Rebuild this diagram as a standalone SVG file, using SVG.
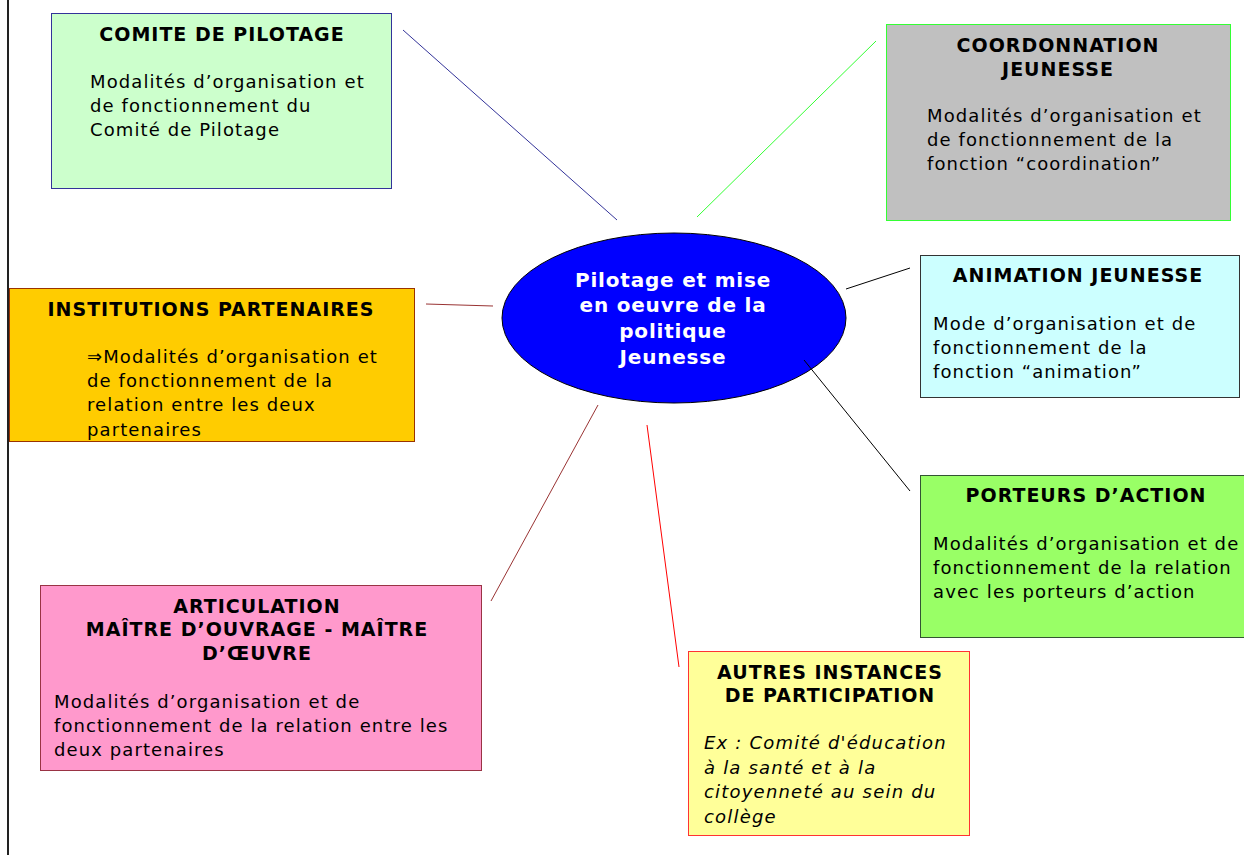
<svg xmlns="http://www.w3.org/2000/svg" width="1244" height="855" viewBox="0 0 1244 855">
<style>
text{font-family:"DejaVu Sans","Liberation Sans",sans-serif;fill:#000}
.t{font-weight:bold;font-size:19px;letter-spacing:1px;text-anchor:middle}
.b{font-size:18px;letter-spacing:1.1px}
.i{font-size:18px;letter-spacing:1.2px;font-style:italic}
.c{font-weight:bold;font-size:20px;letter-spacing:0.8px;text-anchor:middle;fill:#fff}
</style>
<rect width="1244" height="855" fill="#fff"/>
<line x1="8" y1="0" x2="8" y2="855" stroke="#222" stroke-width="2"/>
<g id="comite">
<rect x="51.5" y="13.5" width="340" height="175" fill="#ccffcc" stroke="#333399"/>
<text class="t" x="222" y="41">COMITE DE PILOTAGE</text>
<text class="b" x="90" y="88">Modalités d’organisation et</text>
<text class="b" x="90" y="112">de fonctionnement du</text>
<text class="b" x="90" y="136">Comité de Pilotage</text>
</g>
<g id="coordination">
<rect x="886.5" y="24.5" width="344" height="196" fill="#c0c0c0" stroke="#33ff33"/>
<text class="t" x="1058" y="52">COORDONNATION</text>
<text class="t" x="1058" y="76">JEUNESSE</text>
<text class="b" x="927" y="122">Modalités d’organisation et</text>
<text class="b" x="927" y="146">de fonctionnement de la</text>
<text class="b" x="927" y="170">fonction “coordination”</text>
</g>
<g id="institutions">
<rect x="9.5" y="288.5" width="405" height="153" fill="#ffcc00" stroke="#993300"/>
<text class="t" x="211" y="316">INSTITUTIONS PARTENAIRES</text>
<text class="b" x="87" y="363">⇒Modalités d’organisation et</text>
<text class="b" x="87" y="387">de fonctionnement de la</text>
<text class="b" x="87" y="411">relation entre les deux</text>
<text class="b" x="87" y="436">partenaires</text>
</g>
<g id="centre">
<ellipse cx="674" cy="318" rx="172" ry="85" fill="#0000ff" stroke="#000"/>
<text class="c" x="673" y="287">Pilotage et mise</text>
<text class="c" x="673" y="312">en oeuvre de la</text>
<text class="c" x="673" y="338">politique</text>
<text class="c" x="673" y="364">Jeunesse</text>
</g>
<g id="animation">
<rect x="920.5" y="255.5" width="319" height="142" fill="#ccffff" stroke="#333"/>
<text class="t" x="1078" y="282">ANIMATION JEUNESSE</text>
<text class="b" x="933" y="330">Mode d’organisation et de</text>
<text class="b" x="933" y="354">fonctionnement de la</text>
<text class="b" x="933" y="378">fonction “animation”</text>
</g>
<g id="porteurs">
<rect x="920.5" y="475.5" width="330" height="162" fill="#99ff66" stroke="#335533"/>
<text class="t" x="1086" y="502">PORTEURS D’ACTION</text>
<text class="b" x="933" y="550">Modalités d’organisation et de</text>
<text class="b" x="933" y="574">fonctionnement de la relation</text>
<text class="b" x="933" y="598">avec les porteurs d’action</text>
</g>
<g id="articulation">
<rect x="40.5" y="585.5" width="441" height="185" fill="#ff99cc" stroke="#993344"/>
<text class="t" x="257" y="613">ARTICULATION</text>
<text class="t" x="257" y="636">MAÎTRE D’OUVRAGE - MAÎTRE</text>
<text class="t" x="257" y="660">D’ŒUVRE</text>
<text class="b" x="54" y="708">Modalités d’organisation et de</text>
<text class="b" x="54" y="732">fonctionnement de la relation entre les</text>
<text class="b" x="54" y="756">deux partenaires</text>
</g>
<g id="autres">
<rect x="688.5" y="651.5" width="281" height="184" fill="#ffff99" stroke="#ff3333"/>
<text class="t" x="830" y="679">AUTRES INSTANCES</text>
<text class="t" x="830" y="702">DE PARTICIPATION</text>
<text class="i" x="704" y="749">Ex : Comité d'éducation</text>
<text class="i" x="704" y="774">à la santé et à la</text>
<text class="i" x="704" y="798">citoyenneté au sein du</text>
<text class="i" x="704" y="823">collège</text>
</g>
<g id="connectors" fill="none" stroke-width="1">
<line x1="403" y1="30" x2="617" y2="220" stroke="#333399"/>
<line x1="876" y1="41" x2="697" y2="217" stroke="#33ff33"/>
<line x1="426" y1="304" x2="493" y2="306" stroke="#993333"/>
<line x1="846" y1="289" x2="910" y2="268" stroke="#000"/>
<line x1="804" y1="360" x2="910" y2="491" stroke="#000"/>
<line x1="598" y1="405" x2="491" y2="601" stroke="#993333"/>
<line x1="647" y1="425" x2="679" y2="667" stroke="#ff0000"/>
</g>
</svg>
